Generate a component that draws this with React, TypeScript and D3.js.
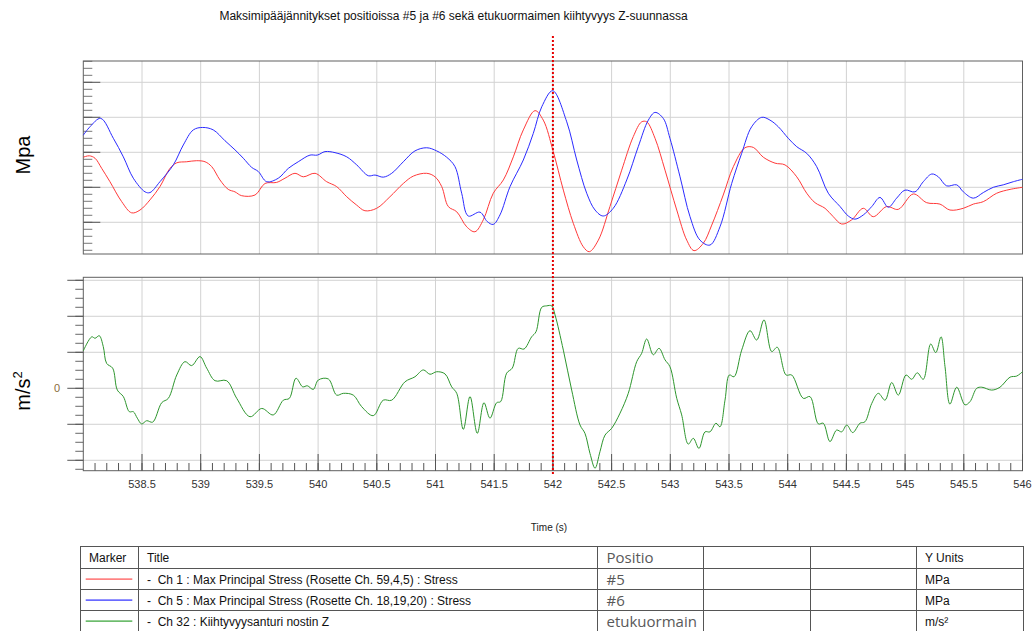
import React from "react";
import * as d3 from "d3";

const titleText = "Maksimipääjännitykset positioissa #5 ja #6 sekä etukuormaimen kiihtyvyys Z-suunnassa";

const blueT = [538.000, 538.057, 538.148, 538.256, 538.341, 538.426, 538.526, 538.568, 538.653, 538.767, 538.852, 538.937, 539.017, 539.107, 539.207, 539.292, 539.363, 539.434, 539.491, 539.562, 539.661, 539.746, 539.831, 539.931, 539.993, 540.059, 540.144, 540.244, 540.329, 540.428, 540.485, 540.555, 540.627, 540.726, 540.825, 540.925, 541.010, 541.095, 541.166, 541.223, 541.279, 541.379, 541.441, 541.492, 541.549, 541.635, 541.748, 541.833, 541.905, 541.998, 542.118, 542.203, 542.288, 542.359, 542.429, 542.514, 542.629, 542.727, 542.813, 542.870, 542.940, 542.997, 543.083, 543.168, 543.253, 543.338, 543.423, 543.523, 543.608, 543.693, 543.779, 543.849, 543.920, 544.005, 544.077, 544.162, 544.247, 544.346, 544.446, 544.516, 544.573, 544.644, 544.716, 544.786, 544.857, 544.928, 544.999, 545.084, 545.155, 545.227, 545.283, 545.354, 545.440, 545.496, 545.581, 545.666, 545.751, 545.836, 545.922, 546.000];
const blueV = [2.49, 2.73, 2.97, 2.40, 1.87, 1.26, 0.87, 0.85, 1.16, 1.64, 2.21, 2.64, 2.71, 2.64, 2.33, 2.07, 1.83, 1.57, 1.45, 1.16, 1.26, 1.54, 1.73, 1.92, 1.92, 2.02, 1.99, 1.87, 1.64, 1.33, 1.35, 1.29, 1.40, 1.73, 2.04, 2.13, 2.04, 1.86, 1.59, 0.83, 0.18, 0.29, 0.02, -0.06, 0.21, 1.02, 1.78, 2.54, 3.30, 3.76, 2.87, 1.78, 0.83, 0.35, 0.18, 0.40, 1.21, 2.16, 2.92, 3.14, 2.97, 2.40, 1.30, 0.16, -0.51, -0.65, -0.13, 1.11, 1.97, 2.73, 3.00, 2.92, 2.73, 2.40, 2.16, 1.97, 1.59, 0.83, 0.45, 0.18, 0.09, 0.21, 0.45, 0.71, 0.43, 0.69, 0.92, 0.87, 1.16, 1.38, 1.30, 1.04, 1.07, 0.87, 0.69, 0.85, 1.00, 1.07, 1.16, 1.23];

const redT = [538.000, 538.051, 538.100, 538.157, 538.227, 538.327, 538.412, 538.483, 538.568, 538.653, 538.738, 538.796, 538.881, 538.966, 539.037, 539.094, 539.164, 539.235, 539.292, 539.349, 539.463, 539.548, 539.647, 539.718, 539.803, 539.874, 539.974, 540.073, 540.158, 540.244, 540.329, 540.399, 540.499, 540.612, 540.726, 540.811, 540.925, 540.996, 541.053, 541.109, 541.181, 541.266, 541.336, 541.407, 541.492, 541.578, 541.663, 541.748, 541.848, 541.918, 542.003, 542.089, 542.174, 542.259, 542.310, 542.387, 542.486, 542.586, 542.685, 542.756, 542.799, 542.870, 542.955, 543.055, 543.140, 543.202, 543.281, 543.353, 543.451, 543.537, 543.636, 543.707, 543.792, 543.892, 543.977, 544.077, 544.162, 544.233, 544.318, 544.388, 544.460, 544.545, 544.644, 544.729, 544.843, 544.942, 545.070, 545.184, 545.297, 545.382, 545.496, 545.581, 545.666, 545.780, 545.894, 546.000];
const redV = [1.86, 1.90, 1.83, 1.54, 1.16, 0.59, 0.27, 0.35, 0.64, 1.02, 1.54, 1.70, 1.73, 1.76, 1.73, 1.59, 1.21, 0.94, 0.87, 0.76, 0.78, 1.11, 1.14, 1.26, 1.40, 1.30, 1.40, 1.16, 1.02, 0.73, 0.49, 0.33, 0.40, 0.73, 1.11, 1.32, 1.40, 1.30, 1.02, 0.45, 0.30, -0.13, -0.27, 0.07, 0.83, 1.21, 1.87, 2.64, 3.19, 2.92, 2.02, 0.92, -0.03, -0.70, -0.84, -0.51, 0.45, 1.49, 2.45, 2.87, 2.87, 2.40, 1.49, 0.35, -0.51, -0.81, -0.60, -0.08, 0.78, 1.59, 2.13, 2.14, 1.86, 1.69, 1.64, 1.30, 0.83, 0.56, 0.40, 0.16, -0.05, 0.07, 0.40, 0.16, 0.45, 0.37, 0.81, 0.56, 0.52, 0.35, 0.40, 0.52, 0.59, 0.83, 0.94, 1.00];

const greenT = [538.000, 538.072, 538.100, 538.136, 538.170, 538.199, 538.250, 538.290, 538.341, 538.392, 538.426, 538.460, 538.497, 538.540, 538.591, 538.668, 538.724, 538.796, 538.866, 538.923, 538.994, 539.051, 539.122, 539.221, 539.307, 539.420, 539.520, 539.618, 539.704, 539.755, 539.812, 539.869, 539.908, 539.959, 540.002, 540.087, 540.158, 540.215, 540.300, 540.371, 540.470, 540.555, 540.627, 540.740, 540.825, 540.896, 540.953, 541.010, 541.081, 541.138, 541.181, 541.237, 541.294, 541.356, 541.413, 541.464, 541.521, 541.555, 541.606, 541.654, 541.705, 541.754, 541.819, 541.856, 541.905, 541.947, 541.990, 542.018, 542.089, 542.160, 542.231, 542.273, 542.316, 542.359, 542.401, 542.444, 542.501, 542.572, 542.642, 542.714, 542.756, 542.799, 542.855, 542.904, 542.955, 542.997, 543.055, 543.097, 543.153, 543.196, 543.244, 543.296, 543.338, 543.389, 543.423, 543.466, 543.503, 543.543, 543.608, 543.679, 543.736, 543.798, 543.864, 543.911, 543.986, 544.034, 544.133, 544.190, 544.261, 544.303, 544.360, 544.417, 544.460, 544.503, 544.554, 544.616, 544.658, 544.716, 544.772, 544.829, 544.886, 544.942, 545.008, 545.056, 545.104, 545.155, 545.218, 545.261, 545.306, 545.340, 545.382, 545.440, 545.510, 545.553, 545.610, 545.653, 545.738, 545.808, 545.894, 545.951, 546.000];
const greenV = [1.04, 1.43, 1.39, 1.46, 1.16, 0.69, 0.56, -0.05, -0.23, -0.65, -0.65, -0.83, -0.99, -0.90, -0.94, -0.40, -0.28, 0.37, 0.74, 0.63, 0.88, 0.56, 0.21, 0.21, -0.28, -0.79, -0.56, -0.74, -0.33, -0.28, 0.28, 0.04, 0.07, -0.03, 0.23, 0.26, -0.19, -0.14, -0.19, -0.51, -0.76, -0.33, -0.33, 0.18, 0.32, 0.51, 0.39, 0.46, 0.40, 0.04, -0.14, -1.14, -0.23, -1.25, -0.40, -0.83, -0.40, -0.37, 0.42, 0.56, 1.11, 1.09, 1.43, 1.57, 2.25, 2.29, 2.29, 2.04, 1.06, -0.05, -1.02, -1.25, -1.81, -2.22, -1.76, -1.30, -1.11, -0.69, -0.14, 0.74, 0.97, 1.37, 0.93, 1.11, 0.79, 0.60, -0.28, -0.74, -1.55, -1.39, -1.67, -1.21, -1.21, -0.97, -1.07, -0.33, 0.37, 0.32, 1.06, 1.60, 1.34, 1.90, 1.02, 1.14, 0.37, 0.37, -0.28, -0.23, -0.99, -0.97, -1.48, -1.16, -1.21, -1.02, -1.23, -0.97, -0.93, -0.42, -0.14, -0.33, 0.16, -0.19, 0.37, 0.25, 0.43, 0.25, 1.23, 0.99, 1.43, 0.60, -0.44, 0.03, -0.46, -0.37, 0.00, 0.03, -0.05, 0.03, 0.31, 0.34, 0.46];

const markerTime = 542;
const xMajorTicks = d3.range(1, 17).map((i) => 538 + i * 0.5);
const xMinorTicks = d3.range(1, 80).map((i) => 538 + i * 0.1);
const topMajorTicks = [0, 1, 2, 3, 4];
const topMinorTicks = d3.range(-4, 24).map((i) => i * 0.2);
const botMajorTicks = [-2, -1, 0, 1, 2, 3];
const botMinorTicks = d3.range(-9, 13).map((i) => i * 0.25);

const legendMarkers = ["#ff4d4d", "#2b2bff", "#30a030"];
const legendTitles = [
  "-  Ch 1 : Max Principal Stress (Rosette Ch. 59,4,5) : Stress",
  "-  Ch 5 : Max Principal Stress (Rosette Ch. 18,19,20) : Stress",
  "-  Ch 32 : Kiihtyvyysanturi nostin Z",
];
const legendPositio = ["#5", "#6", "etukuormain"];
const legendUnits = ["MPa", "MPa", "m/s²"];

const FONT = "'Liberation Sans', Arial, sans-serif";

export default function App() {
  const L = 83.3, R = 1022.5;
  const x = d3.scaleLinear().domain([538, 546]).range([L, R]);
  const yTop = d3.scaleLinear().domain([-0.906, 4.609]).range([254, 61]);
  const yBot = d3.scaleLinear().domain([-2.289, 3.083]).range([470.7, 277.3]);

  const mk = (ts: number[], vs: number[]) => ts.map((t, i) => [t, vs[i]] as [number, number]).filter((d) => d[1] !== undefined);
  const lineTop = d3.line<[number, number]>().x((d) => x(d[0])).y((d) => yTop(d[1])).curve(d3.curveCatmullRom.alpha(0.5));
  const lineBot = d3.line<[number, number]>().x((d) => x(d[0])).y((d) => yBot(d[1])).curve(d3.curveCatmullRom.alpha(0.5));

  const gridC = "#d2d2d2";
  const axisC = "#606060";

  const tTop = 546.5;
  const rowY = [546.5, 568.5, 589.5, 610.5];
  const colX = [80.5, 138.5, 597.5, 703.5, 810.5, 916.5, 1023.5];
  const rowCenters = [579, 600, 621];

  return (
    <svg width={1033} height={631} style={{ position: "absolute", left: 0, top: 0, background: "#fff" }} fontFamily={FONT}>
      <rect x={0} y={0} width={1033} height={631} fill="#fff" />
      <text x={453.5} y={20} textAnchor="middle" fontSize={12} fill="#111">{titleText}</text>

      <g>
        {xMajorTicks.filter((t) => t < 546).map((t) => (
          <line key={"tg" + t} x1={x(t)} x2={x(t)} y1={61} y2={254} stroke={gridC} strokeWidth={1} />
        ))}
        {topMajorTicks.map((v) => (
          <line key={"th" + v} x1={L} x2={R} y1={yTop(v)} y2={yTop(v)} stroke={gridC} strokeWidth={1} />
        ))}
        {topMinorTicks.map((v) => (
          <line key={"tm" + v} x1={L} x2={L + 9} y1={yTop(v)} y2={yTop(v)} stroke="#777" strokeWidth={1} />
        ))}
        {topMajorTicks.map((v) => (
          <line key={"tM" + v} x1={L} x2={L + 17} y1={yTop(v)} y2={yTop(v)} stroke="#555" strokeWidth={1} />
        ))}
        <rect x={L} y={61} width={R - L} height={193} fill="none" stroke={axisC} strokeWidth={1} />
        <path d={lineTop(mk(redT, redV)) || ""} fill="none" stroke="#ff3a3a" strokeWidth={1} />
        <path d={lineTop(mk(blueT, blueV)) || ""} fill="none" stroke="#2b2bff" strokeWidth={1} />
        <text transform="translate(30,155) rotate(-90)" textAnchor="middle" fontSize={20} fill="#000">Mpa</text>
      </g>

      <g>
        {xMajorTicks.filter((t) => t < 546).map((t) => (
          <line key={"bg" + t} x1={x(t)} x2={x(t)} y1={277.3} y2={470.7} stroke={gridC} strokeWidth={1} />
        ))}
        {botMajorTicks.map((v) => (
          <line key={"bh" + v} x1={L} x2={R} y1={yBot(v)} y2={yBot(v)} stroke={gridC} strokeWidth={1} />
        ))}
        {botMinorTicks.map((v) => (
          <line key={"bm" + v} x1={L - 8} x2={L} y1={yBot(v)} y2={yBot(v)} stroke="#666" strokeWidth={1} />
        ))}
        {botMajorTicks.map((v) => (
          <line key={"bM" + v} x1={L - 16} x2={L} y1={yBot(v)} y2={yBot(v)} stroke="#555" strokeWidth={1} />
        ))}
        <rect x={L} y={277.3} width={R - L} height={193.4} fill="none" stroke={axisC} strokeWidth={1} />
        <text x={57} y={392} textAnchor="middle" fontSize={11} fill="#8a6a3a">0</text>
        <path d={lineBot(mk(greenT, greenV)) || ""} fill="none" stroke="#2e962e" strokeWidth={1} />
        <text transform="translate(30,391) rotate(-90)" textAnchor="middle" fontSize={20} fill="#000">
          m/s<tspan fontSize={13} dy={-8}>2</tspan>
        </text>

        {xMinorTicks.map((t) => (
          <line key={"xm" + t} x1={x(t)} x2={x(t)} y1={463} y2={470.7} stroke="#555" strokeWidth={1} />
        ))}
        {xMajorTicks.map((t) => (
          <line key={"xM" + t} x1={x(t)} x2={x(t)} y1={454} y2={470.7} stroke="#555" strokeWidth={1} />
        ))}
        {xMajorTicks.map((t) => (
          <text key={"xl" + t} x={x(t)} y={488} textAnchor="middle" fontSize={11} fill="#333">{String(+t.toFixed(1))}</text>
        ))}
        <text x={549} y={531} textAnchor="middle" fontSize={10} fill="#222">Time (s)</text>
      </g>

      <line x1={x(markerTime)} x2={x(markerTime)} y1={36} y2={475} stroke="#e60000" strokeWidth={2} strokeDasharray="2,2" />

      <g>
        <rect x={colX[0]} y={tTop} width={colX[6] - colX[0]} height={640 - tTop} fill="none" stroke="#555" strokeWidth={1} />
        {rowY.slice(1).map((y, i) => (
          <line key={"rl" + i} x1={colX[0]} x2={colX[6]} y1={y} y2={y} stroke="#555" strokeWidth={1} />
        ))}
        {colX.slice(1, 6).map((cx, i) => (
          <line key={"cl" + i} x1={cx} x2={cx} y1={tTop} y2={640} stroke="#555" strokeWidth={1} />
        ))}
        <text x={89} y={562} fontSize={12} fill="#111">Marker</text>
        <text x={147} y={562} fontSize={12} fill="#111">Title</text>
        <text x={606.5} y={563} fontSize={15} fill="#595959" fontFamily="'Open Sans', sans-serif">Positio</text>
        <text x={925} y={562} fontSize={12} fill="#111">Y Units</text>
        {legendTitles.map((t, i) => {
          const cy = rowCenters[i];
          return (
            <g key={"lr" + i}>
              <rect x={85.7} y={cy - 0.5} width={46.6} height={1.2} fill={legendMarkers[i]} />
              <text x={147} y={cy + 4.5} fontSize={12} fill="#111" style={{ whiteSpace: "pre" }}>{t}</text>
              <text x={606.5} y={cy + 5.5} fontSize={15} fill="#595959" fontFamily="'Open Sans', sans-serif">{legendPositio[i]}</text>
              <text x={925} y={cy + 4.5} fontSize={12} fill="#111">{legendUnits[i]}</text>
            </g>
          );
        })}
      </g>
    </svg>
  );
}
